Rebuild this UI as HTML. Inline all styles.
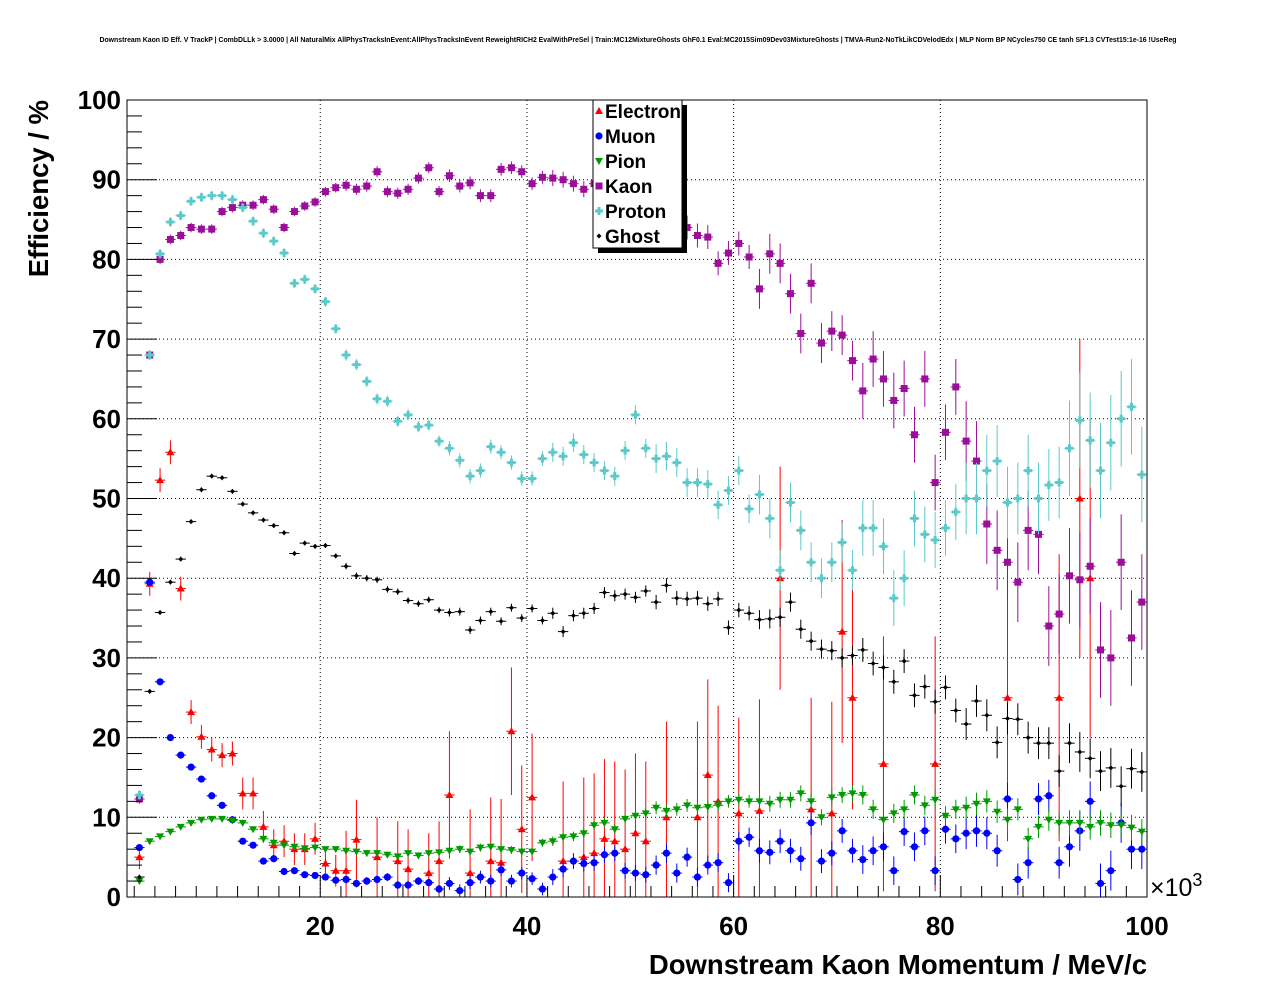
<!DOCTYPE html>
<html><head><meta charset="utf-8"><style>
body{margin:0;background:#fff}
svg{display:block;font-family:"Liberation Sans",Arial,sans-serif}
</style></head><body>
<svg id="c" width="1276" height="996" viewBox="0 0 1276 996">
<text x="638" y="42" text-anchor="middle" font-size="6.9" font-weight="bold">Downstream Kaon ID Eff. V TrackP | CombDLLk &gt; 3.0000 | All NaturalMix AllPhysTracksInEvent:AllPhysTracksInEvent ReweightRICH2 EvalWithPreSel | Train:MC12MixtureGhosts GhF0.1 Eval:MC2015Sim09Dev03MixtureGhosts | TMVA-Run2-NoTkLikCDVelodEdx | MLP Norm BP NCycles750 CE tanh SF1.3 CVTest15:1e-16 !UseReg</text>
<g id="grid"></g>
<g id="marks"></g>
<rect x="127" y="100" width="1020" height="797" fill="none" stroke="#000" stroke-width="1"/>
<g id="axes"></g>
<text x="48" y="100" transform="rotate(-90 48 100)" text-anchor="end" font-size="27.5" font-weight="bold">Efficiency / %</text>
<text x="1147" y="974" text-anchor="end" font-size="27.5" font-weight="bold">Downstream Kaon Momentum / MeV/c</text>
<text x="1150" y="896" font-size="25">×10<tspan dy="-10" font-size="18">3</tspan></text>
<g>
<rect x="598" y="105" width="89" height="148" fill="#000"/>
<rect x="593" y="100" width="89" height="148" fill="#fff" stroke="#000"/>
<g id="legend"></g>
</g>
</svg>
<script>
const xCenters0 = 2.5;
const electron = [5,39.3,52.3,55.8,38.7,23.2,20.1,18.5,17.8,18,13,13,8.8,6.5,7,6,6,7.3,4.2,3.3,3.3,7.2,null,5,null,4.5,3.5,null,3,4.5,12.8,null,3,null,4.5,4.3,20.8,8.5,12.5,null,null,4.5,null,5,5.5,7.3,7,6,8,7,null,10,null,null,10,15.3,12,null,10.5,null,10.8,null,40,null,null,11,null,10.5,33.3,25,null,null,16.7,null,null,null,null,16.7,null,null,null,null,null,null,25,null,null,null,null,25,null,50,40,null,null,null,null,null];
const muon = [6.2,39.5,27,20,17.8,16.3,14.8,12.7,11.5,9.7,7,6.5,4.5,4.8,3.2,3.3,2.8,2.7,2.5,2.1,2.2,1.7,2,2.2,2.5,1.5,1.5,2,1.8,1,1.7,0.8,1.8,2.5,2,3.4,2,3,2.3,1,2.5,3.5,4.5,4.2,4.3,5.3,5.5,3.3,3,2.8,4,5.5,3,5,2.5,4,4.3,1.8,7,7.5,5.8,5.6,7,5.8,4.8,9.3,4.5,5.5,8.3,5.8,4.7,5.8,6.3,3.3,8.2,6.3,8.3,3.3,8.5,7.3,8,8.3,8,5.8,12.3,2.2,4.3,12.3,12.7,4.3,6.3,8.3,12,1.7,3.3,9.3,6,6];
const pion = [2,7,7.6,8.2,8.8,9.3,9.7,9.8,9.8,9.6,9.3,8.5,7.3,6.8,6.5,6.3,6.1,6.2,6,6,5.8,5.7,5.5,5.5,5.3,5.1,5.5,5.2,5.5,5.6,5.8,6,5.7,6.2,6.3,6,5.9,5.7,5.7,6.8,7,7.5,7.6,8,9,9.3,8.5,9.8,10.2,10.5,11.2,10.8,11,11.5,11.2,11.3,11.5,12,12.2,12,12,11.7,12.2,12.2,13,12,10,12.5,12.8,13,12.8,11,9.7,10.5,11,12.8,11.5,12.2,10.2,11,11.2,11.7,12,10.7,9.7,11,7.3,8.8,9.7,9.3,9.3,9.3,8.8,9.3,9,9,8.7,8.2];
const kaon = [12.3,68,80,82.5,83,84,83.8,83.8,86,86.5,86.8,86.8,87.5,86.3,84,86,86.7,87.2,88.5,89,89.3,88.8,89.2,91,88.5,88.3,88.8,90.2,91.5,88.5,90.5,89.2,89.6,88,88,91.3,91.5,91,89.5,90.3,90.2,90,89.5,88.8,89.5,89,88.2,88,87.5,87.5,87,86,86,84,83,82.8,79.5,80.8,82,80.3,76.3,80.7,79.5,75.7,70.7,77,69.5,71,70.5,67.3,63.5,67.5,65,62.3,63.8,58,65,52,58.3,64,57.2,54.7,46.8,43.5,42,39.5,46,45.5,34,35.5,40.3,39.8,41.5,31,30,42,32.5,37];
const proton = [12.8,68,80.7,84.7,85.5,87.3,87.8,88,88,87.5,86.5,84.8,83.3,82.3,80.8,77,77.5,76.3,74.7,71.3,68,66.8,64.7,62.5,62.2,59.7,60.5,59,59.2,57.2,56.3,54.8,52.8,53.5,56.5,55.8,54.5,52.5,52.5,55,55.8,55.3,57,55.5,54.5,53.5,52.8,56,60.5,56.3,55,55.3,54.5,52,52,51.8,49.2,51,53.5,48.7,50.5,47.5,41,49.5,46,42,40,42,44.5,41,46.3,46.3,44,37.5,40,47.5,45.5,44.8,46.3,48.3,50,50,53.5,54.7,49.5,50,53.5,50,51.7,52,56.3,59.8,57.3,53.5,57,60,61.5,53,56];
const ghost = [2.5,25.8,35.7,39.5,42.4,47.1,51.1,52.8,52.6,50.9,49.3,48.2,47.3,46.6,45.7,43.1,44.4,44.0,44.1,42.8,41.5,40.3,40.0,39.8,38.6,38.3,37.2,36.8,37.3,36.0,35.7,35.8,33.5,34.7,35.8,34.6,36.3,35.0,36.2,34.7,35.6,33.3,35.3,35.6,36.2,38.2,37.8,38.0,37.6,38.4,37.0,39.1,37.5,37.4,37.5,36.8,37.4,33.8,36.0,35.6,34.8,34.9,35.1,37.0,33.6,32.1,31.1,30.9,30.0,30.3,31.0,29.3,28.8,27.0,29.6,25.3,26.4,24.5,26.3,23.4,21.7,24.6,22.8,19.4,22.4,22.3,20.0,19.3,19.3,15.8,19.3,18.2,17.4,15.8,16.2,13.9,16.1,15.7];
// error estimates per block of 10 bins
const errElectron = [1.5,2,5,8,10,12,14,16,18,20];
const errMuon = [0.4,0.4,0.5,0.8,1,1.2,1.5,1.8,2,2.5];
const errPion = [0.3,0.3,0.4,0.5,0.6,0.8,1,1.2,1.4,1.6];
const errKaon = [0.6,0.6,0.7,0.8,1,1.5,2.5,3.5,5,6];
const errProton = [0.6,0.6,0.7,0.9,1.2,1.8,2.5,3.5,4.5,6];
const errGhost = [0.3,0.3,0.4,0.5,0.7,0.9,1.2,1.5,2,2.5];
const xTicks = [20,40,60,80,100];
const yTicks = [0,10,20,30,40,50,60,70,80,90,100];

const X0=127,X1=1147,Y0=897,Y1=100,XMIN=1.3,XMAX=100,YMIN=0,YMAX=100;
const xs=v=>X0+(v-XMIN)/(XMAX-XMIN)*(X1-X0);
const ys=v=>Y0-(v-YMIN)/(YMAX-YMIN)*(Y0-Y1);
const NS='http://www.w3.org/2000/svg';
function mk(tag,attrs,parent){const e=document.createElementNS(NS,tag);for(const k in attrs)e.setAttribute(k,attrs[k]);parent.appendChild(e);return e;}
const grid=document.getElementById('grid'),axes=document.getElementById('axes'),marks=document.getElementById('marks'),leg=document.getElementById('legend');
xTicks.forEach(t=>{const x=xs(t);
 const g=mk('line',{x1:x,x2:x,y1:Y1,y2:Y0,stroke:'#000','stroke-dasharray':'1 3','stroke-width':1},grid);
 
 
 const tl=mk('text',{x:x,y:935,'text-anchor':'middle','font-size':26,'font-weight':'bold'},axes);tl.textContent=t;
 
 
});
for(let v=2;v<=100;v+=2){const x=xs(v);if(x<X0)continue;const major=v%20===0;
 mk('line',{x1:x,x2:x,y1:Y0,y2:Y0-(major?22:11),stroke:'#000'},axes);}
yTicks.forEach(t=>{const y=ys(t);
 if(t>0&&t<100){const g=mk('line',{x1:X0,x2:X1,y1:y,y2:y,stroke:'#000','stroke-dasharray':'1 3','stroke-width':1},grid);
 
 }
 const tl=mk('text',{x:121,y:y+9,'text-anchor':'end','font-size':26,'font-weight':'bold'},axes);tl.textContent=t;
 
 
});
for(let v=0;v<=100;v+=2){const y=ys(v);mk('line',{x1:X0,x2:X0+(v%10===0?30:15),y1:y,y2:y,stroke:'#000'},axes);}

function marker(kind,cx,cy,col,p){
 if(kind==='tu')return mk('polygon',{points:`${cx},${cy-4} ${cx-4},${cy+3} ${cx+4},${cy+3}`,fill:col},p);
 if(kind==='td')return mk('polygon',{points:`${cx},${cy+4} ${cx-4},${cy-3} ${cx+4},${cy-3}`,fill:col},p);
 if(kind==='c')return mk('circle',{cx:cx,cy:cy,r:3.6,fill:col},p);
 if(kind==='s')return mk('rect',{x:cx-3.5,y:cy-3.5,width:7,height:7,fill:col},p);
 if(kind==='p')return mk('path',{d:`M${cx-4} ${cy-1.5}h2.5v-2.5h3v2.5h2.5v3h-2.5v2.5h-3v-2.5h-2.5z`,fill:col},p);
 return mk('polygon',{points:`${cx},${cy-2.5} ${cx-2.5},${cy} ${cx},${cy+2.5} ${cx+2.5},${cy}`,fill:col},p);
}
const series=[
 ['electron',electron,errElectron,'#ff0000','tu','Electron'],
 ['muon',muon,errMuon,'#0000ff','c','Muon'],
 ['pion',pion,errPion,'#009a00','td','Pion'],
 ['kaon',kaon,errKaon,'#9a0f9a','s','Kaon'],
 ['proton',proton,errProton,'#5ccaca','p','Proton'],
 ['ghost',ghost,errGhost,'#000000','d','Ghost']];
const N=98;
series.forEach(([name,vals,errs,col,kind])=>{
 const g=mk('g',{},marks);
 
 
 for(let i=0;i<N&&i<vals.length;i++){const v=vals[i];if(v==null)continue;
  const xv=xCenters0+i;const cx=xs(xv),cy=ys(v);
  const e=errs[Math.min(9,Math.floor(i/10))];
  mk('line',{x1:xs(xv-0.5),x2:xs(xv+0.5),y1:cy,y2:cy,stroke:col,'stroke-width':1},g);
  mk('line',{x1:cx,x2:cx,y1:ys(Math.min(100,v+e)),y2:ys(Math.max(0,v-e)),stroke:col,'stroke-width':1},g);
  const m=marker(kind,cx,cy,col,g);
  
  
 }
});
series.forEach(([name,,,col,kind,label],k)=>{
 const y=111+k*25;
 const m=marker(kind,599,y,col,leg);
 
 
 const t=mk('text',{x:605,y:y+7,'font-size':19,'font-weight':'bold'},leg);t.textContent=label;
 
 
});
</script>
</body></html>
